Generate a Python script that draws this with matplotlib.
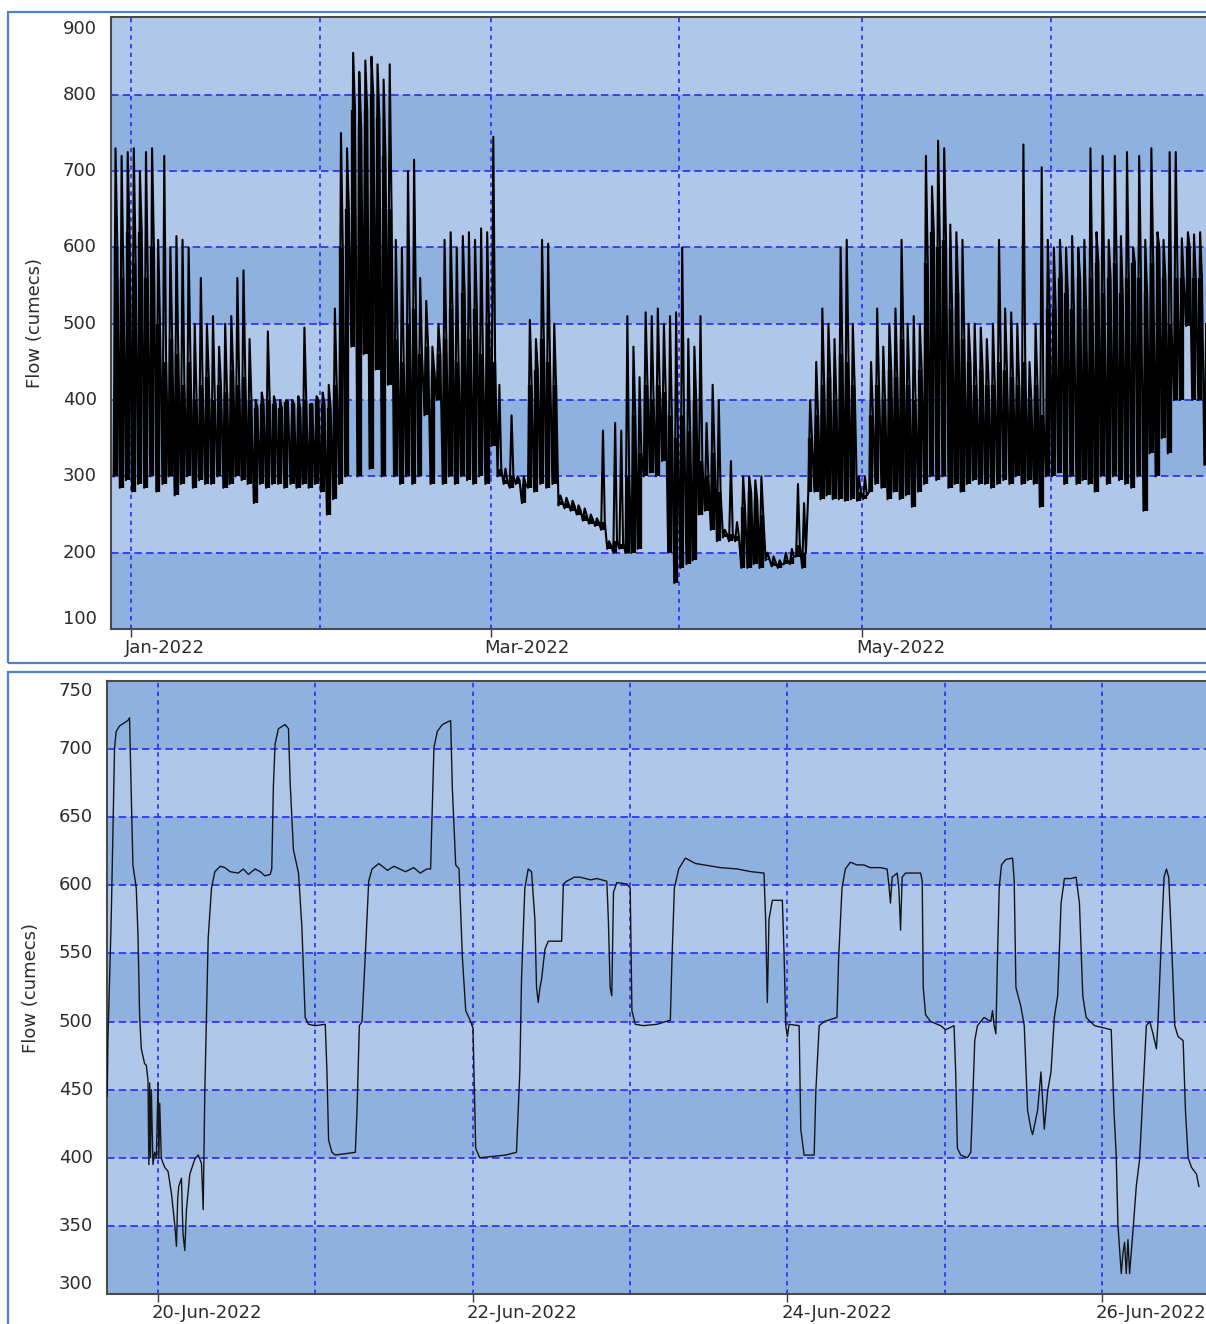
import numpy as np
import pandas as pd
import matplotlib
matplotlib.use("Agg")
import matplotlib.pyplot as plt
import matplotlib.dates as mdates
from matplotlib.patches import Rectangle
from matplotlib.ticker import FixedLocator
from matplotlib.transforms import offset_copy

# ---------------- data ----------------
# Upper panel: one low / high / typical value per day, 29-Dec-2021 .. 26-Jun-2022
season_start = "2021-12-29"
daily_low = [
    300, 285, 295,
    280, 290, 285, 300, 280, 290, 300, 275, 290, 300, 285, 295, 290, 290, 300, 285, 290, 300, 295, 290, 265, 290, 285, 290, 290, 285, 290, 285, 290, 285, 290,
    280, 250, 270, 290, 300, 470, 300, 460, 310, 440, 300, 420, 300, 290, 300, 290, 300, 380, 290, 400, 290, 300, 290, 300, 295, 290, 300, 290,
    340, 300, 290, 285, 290, 265, 285, 280, 290, 285, 290, 262, 258, 255, 250, 242, 238, 235, 230, 205, 200, 205, 200, 200, 205, 300, 305, 300, 320, 200, 160,
    180, 185, 190, 250, 255, 230, 215, 220, 215, 215, 180, 180, 185, 180, 190, 182, 180, 185, 185, 195, 180, 280, 280, 270, 275, 270, 270, 268, 270, 268,
    270, 280, 290, 285, 270, 280, 270, 275, 260, 280, 290, 300, 295, 300, 285, 290, 280, 290, 295, 290, 290, 285, 290, 295, 290, 300, 290, 295, 290, 260, 300,
    300, 305, 290, 300, 290, 295, 290, 280, 300, 290, 300, 295, 290, 285, 300, 255, 330, 300, 350, 330, 400, 400, 497, 400, 400, 315,
]
daily_high = [
    730, 720, 725,
    730, 700, 725, 730, 610, 720, 600, 615, 610, 600, 500, 560, 500, 510, 470, 500, 510, 560, 570, 480, 400, 410, 490, 405, 400, 400, 400, 405, 495, 395, 405,
    410, 420, 520, 750, 730, 855, 830, 845, 850, 840, 820, 840, 610, 600, 700, 715, 560, 530, 470, 500, 610, 620, 600, 615, 620, 610, 625, 620,
    745, 420, 310, 380, 300, 300, 505, 480, 610, 605, 500, 275, 272, 268, 262, 258, 250, 245, 360, 215, 370, 360, 510, 470, 430, 515, 510, 520, 500, 510, 515,
    600, 480, 470, 510, 370, 420, 400, 230, 320, 240, 300, 300, 295, 300, 200, 195, 190, 200, 205, 290, 265, 400, 450, 520, 500, 480, 600, 610, 500, 300,
    300, 450, 520, 470, 500, 520, 610, 500, 510, 500, 720, 680, 740, 730, 630, 620, 610, 500, 500, 495, 480, 500, 610, 520, 515, 500, 735, 450, 500, 705, 610,
    600, 610, 600, 615, 600, 610, 730, 620, 720, 610, 720, 615, 725, 600, 720, 610, 730, 620, 610, 725, 725, 612, 620, 617, 620, 500,
]
daily_mid = [
    600, 560, 620,
    580, 620, 560, 600, 500, 450, 480, 460, 420, 450, 400, 420, 430, 400, 420, 410, 440, 420, 430, 400, 390, 395, 400, 395, 390, 398, 395, 390, 400, 395, 400,
    395, 390, 420, 600, 650, 780, 760, 780, 800, 770, 720, 650, 480, 450, 500, 520, 460, 470, 440, 460, 480, 520, 450, 540, 480, 520, 460, 500,
    450, 310, 295, 300, 295, 290, 420, 440, 480, 450, 420, 268, 265, 262, 256, 250, 244, 240, 240, 210, 215, 212, 300, 380, 330, 420, 400, 420, 410, 380, 350,
    380, 360, 400, 320, 300, 330, 280, 225, 225, 222, 260, 280, 270, 250, 192, 188, 185, 190, 195, 210, 200, 350, 380, 420, 430, 400, 460, 450, 420, 280,
    275, 380, 420, 400, 440, 430, 480, 420, 400, 440, 580, 620, 600, 610, 520, 540, 480, 450, 420, 440, 420, 420, 450, 440, 430, 420, 450, 400, 420, 380, 520,
    520, 560, 540, 520, 560, 520, 560, 580, 540, 560, 580, 540, 560, 580, 560, 540, 580, 600, 560, 500, 560, 560, 600, 560, 560, 400,
]

# Lower panel: hours after 20-Jun-2022 00:00 and flow
zoom_origin = "2022-06-20"
zoom_hours = [
    -7.75, -7.65, -7.14, -6.63, -6.38, -5.87, -4.59, -4.34, -4.18, -3.83,
    -3.32, -3.06, -2.81, -2.55, -2.04, -1.79, -1.53, -1.40, -1.27, -1.15,
    -1.02, -0.77, -0.51, -0.25, 0.00, 0.13, 0.26, 0.50, 0.77, 1.02,
    1.53, 2.04, 2.55, 2.81, 3.00, 3.16, 3.57, 3.80, 4.08, 4.34,
    4.85, 5.61, 6.12, 6.63, 6.89, 7.14, 7.65, 8.16, 8.67, 9.50,
    10.2, 11.0, 12.24, 13.0, 13.8, 14.8, 15.6, 16.3, 17.1, 17.35,
    17.6, 17.86, 18.37, 19.39, 19.9, 20.15, 20.66, 21.43, 21.94, 22.45,
    22.96, 23.98, 25.51, 25.77, 26.02, 26.53, 27.04, 28.57, 30.1, 30.36,
    30.71, 31.12, 31.63, 32.14, 32.65, 33.67, 35.0, 36.0, 37.76, 39.0,
    40.0, 41.0, 41.58, 42.09, 42.6, 43.37, 44.64, 44.9, 45.41, 45.92,
    46.43, 46.94, 47.7, 48.05, 48.46, 49.07, 51.0, 53.0, 54.68, 55.19,
    55.45, 55.96, 56.47, 56.98, 57.49, 57.74, 58.0, 58.26, 58.51, 59.02,
    59.53, 61.57, 61.83, 62.34, 63.5, 64.38, 66.0, 66.93, 68.46, 68.71,
    68.97, 69.22, 69.48, 69.99, 71.52, 72.03, 72.29, 72.8, 74.07, 76.11,
    78.15, 78.41, 78.77, 79.43, 80.45, 82.0, 83.26, 85.81, 88.36, 90.5,
    92.44, 92.69, 92.95, 93.2, 93.71, 95.24, 95.5, 95.76, 96.01, 96.27,
    97.8, 98.05, 98.56, 100.09, 100.35, 100.86, 101.62, 103.57, 103.83, 104.34,
    104.85, 105.61, 106.63, 107.65, 108.67, 110.2, 111.22, 111.48, 111.73, 111.99,
    112.76, 113.01, 113.27, 113.52, 114.03, 116.33, 116.58, 116.73, 117.09, 117.86,
    119.39, 120.15, 121.43, 121.68, 121.94, 122.45, 123.47, 123.98, 124.23, 124.59,
    125.0, 126.02, 127.04, 127.3, 127.55, 127.81, 128.06, 128.32, 128.67, 129.34,
    130.36, 130.61, 130.87, 131.63, 132.14, 132.65, 133.16, 133.42, 134.18, 134.69,
    135.2, 135.71, 136.22, 136.73, 137.24, 137.76, 138.27, 139.29, 140.05, 140.56,
    141.07, 141.58, 142.86, 145.41, 145.82, 146.17, 146.43, 146.94, 147.2, 147.45,
    147.7, 147.96, 148.21, 148.72, 149.23, 149.74, 150.26, 150.77, 151.28, 151.79,
    152.3, 152.55, 153.06, 153.47, 153.83, 154.18, 154.59, 155.1, 155.61, 156.38,
    156.73, 157.14, 157.65, 158.42, 158.78,
]
zoom_flow = [
    445, 485, 575, 701, 713, 717, 721, 723, 687, 615,
    598, 564, 505, 480, 469, 468, 457, 395, 455, 400,
    450, 395, 404, 400, 455, 400, 440, 400, 396, 393,
    390, 374, 351, 335, 370, 379, 385, 345, 332, 362,
    388, 399, 402, 396, 362, 449, 561, 598, 610, 614,
    613, 610, 609, 612, 608, 612, 610, 607, 608, 612,
    673, 704, 715, 718, 715, 676, 626, 609, 570, 503,
    498, 497, 498, 463, 413, 404, 402, 403, 404, 435,
    497, 500, 550, 603, 612, 616, 611, 614, 610, 613,
    609, 612, 612, 701, 713, 718, 721, 671, 615, 612,
    547, 508, 500, 495, 407, 400, 401, 402, 404, 463,
    531, 598, 612, 610, 575, 525, 514, 525, 531, 553,
    559, 559, 601, 603, 606, 606, 604, 605, 603, 573,
    525, 519, 595, 602, 601, 598, 508, 498, 497, 498,
    501, 547, 598, 612, 620, 616, 615, 613, 612, 610,
    609, 575, 514, 575, 589, 589, 550, 497, 489, 498,
    497, 421, 402, 402, 449, 497, 500, 503, 547, 598,
    612, 617, 615, 615, 613, 613, 612, 601, 587, 606,
    609, 598, 567, 606, 609, 609, 603, 525, 505, 500,
    497, 494, 497, 463, 407, 402, 400, 404, 435, 486,
    497, 503, 500, 508, 497, 491, 547, 598, 615, 619,
    620, 603, 525, 511, 497, 435, 421, 417, 435, 463,
    421, 449, 463, 503, 519, 587, 605, 605, 606, 587,
    519, 503, 497, 494, 435, 402, 351, 315, 330, 338,
    315, 340, 315, 346, 379, 399, 449, 497, 500, 491,
    480, 500, 561, 606, 612, 606, 561, 497, 489, 486,
    435, 400, 393, 388, 379,
]

season_yticks = [100, 200, 300, 400, 500, 600, 700, 800, 900]
zoom_yticks = [300, 350, 400, 450, 500, 550, 600, 650, 700, 750]
season_grid_days = ["2022-01-01", "2022-02-01", "2022-03-01", "2022-04-01", "2022-05-01", "2022-06-01"]
season_label_days = ["2022-01-01", "2022-03-01", "2022-05-01"]
zoom_grid_days = ["2022-06-20", "2022-06-21", "2022-06-22", "2022-06-23", "2022-06-24", "2022-06-25", "2022-06-26"]
zoom_label_days = ["2022-06-20", "2022-06-22", "2022-06-24", "2022-06-26"]

# ---------------- style ----------------
LIGHT = "#afc8ea"
DARK = "#8fb1e0"
GRID = "#2a2af0"
TEXT = "#2b2b2b"
FRAME = "#4f81c7"
W, H = 1206, 1324

plt.rcParams["font.family"] = ["DejaVu Sans"]

fig = plt.figure(figsize=(W / 100, H / 100), dpi=100)


def px_box(left, top, right, bottom):
    return [left / W, 1 - bottom / H, (right - left) / W, (bottom - top) / H]


def style_panel(ax, yticks, ylim, grid_days, label_days, fmt):
    ax.set_ylim(ylim)
    ax.set_facecolor(LIGHT)
    for lo, hi in zip(yticks[0::2], yticks[1::2]):
        ax.axhspan(lo, hi, color=DARK, lw=0, zorder=0)
    for y in yticks:
        if ylim[0] < y < ylim[1] - 5:
            ax.axhline(y, color=GRID, lw=1.2, ls=(0, (4.5, 2.5)), zorder=1)
    for d in grid_days:
        ax.axvline(mdates.date2num(pd.Timestamp(d)), color=GRID, lw=1.2,
                   ls=(0, (2.6, 2.6)), zorder=1)

    ax.xaxis.set_major_locator(FixedLocator([mdates.date2num(pd.Timestamp(d)) for d in label_days]))
    ax.yaxis.set_major_locator(FixedLocator(yticks))
    ax.tick_params(axis="x", which="major", direction="out", length=6, width=1,
                   color="#3a3a3a", labelbottom=False)
    ax.tick_params(axis="y", length=0, labelleft=False)

    for s in ["left", "top", "bottom"]:
        ax.spines[s].set_color("#4a4a4a")
        ax.spines[s].set_linewidth(1.5)
    ax.spines["right"].set_visible(False)

    # date labels start just left of their tick
    xt = offset_copy(ax.get_xaxis_transform(), x=-6, y=-10, units="dots")
    for d in label_days:
        ax.text(mdates.date2num(pd.Timestamp(d)), 0, pd.Timestamp(d).strftime(fmt),
                transform=xt, ha="left", va="top", fontsize=13, color=TEXT)

    # value labels, the outermost ones pulled inside the plot height
    for v in yticks:
        dy = 0
        if v == yticks[-1]:
            dy = -10
        elif v == yticks[0]:
            dy = 10
        yt = offset_copy(ax.get_yaxis_transform(), x=-14, y=dy, units="dots")
        ax.text(0, v, str(v), transform=yt, ha="right", va="center",
                fontsize=13, color=TEXT)


# ---------------- upper panel ----------------
ax1 = fig.add_axes(px_box(111, 17, 1206, 629))
days = pd.date_range(season_start, periods=len(daily_low), freq="D")
offs = pd.to_timedelta([3.6, 10.8, 18.0], unit="h")
season_t = (days.repeat(3) + np.tile(offs.to_numpy(), len(days))).to_numpy()
season_v = np.column_stack([daily_low, daily_high, daily_mid]).ravel()
# dense part of each day's hourly trace: strokes from the low to the typical level
day_mid = (days + pd.Timedelta(hours=12)).to_numpy()
ax1.vlines(day_mid, daily_low, daily_mid, color="black", lw=3.1, zorder=3)
ax1.plot(season_t, season_v, color="black", lw=1.5, zorder=3)
ax1.set_xlim(mdates.date2num(pd.Timestamp("2021-12-28 17:00")),
             mdates.date2num(pd.Timestamp("2022-06-26 10:00")))
style_panel(ax1, season_yticks, (100, 902), season_grid_days, season_label_days, "%b-%Y")

# ---------------- lower panel ----------------
ax2 = fig.add_axes(px_box(107, 681, 1206, 1294))
zoom_t = (pd.Timestamp(zoom_origin) + pd.to_timedelta(zoom_hours, unit="h")).to_numpy()
ax2.plot(zoom_t, zoom_flow, color="#151515", lw=1.0, zorder=3)
ax2.set_xlim(mdates.date2num(pd.Timestamp("2022-06-19 16:13")),
             mdates.date2num(pd.Timestamp("2022-06-26 15:52")))
style_panel(ax2, zoom_yticks, (300, 750), zoom_grid_days, zoom_label_days, "%d-%b-%Y")

# axis titles
fig.text(35 / W, 1 - 323 / H, "Flow (cumecs)", rotation=90, ha="center", va="center",
         fontsize=13, color=TEXT)
fig.text(31 / W, 1 - 988 / H, "Flow (cumecs)", rotation=90, ha="center", va="center",
         fontsize=13, color=TEXT)

# panel frames
fig.add_artist(Rectangle((8 / W, 1 - 663 / H), 1.05, (663 - 12) / H,
                         transform=fig.transFigure, fill=False, ec=FRAME, lw=1.6))
fig.add_artist(Rectangle((8 / W, -0.05), 1.05, 0.05 + (1324 - 672) / H,
                         transform=fig.transFigure, fill=False, ec=FRAME, lw=1.6))

fig.savefig("out.png", dpi=100, facecolor="white")
